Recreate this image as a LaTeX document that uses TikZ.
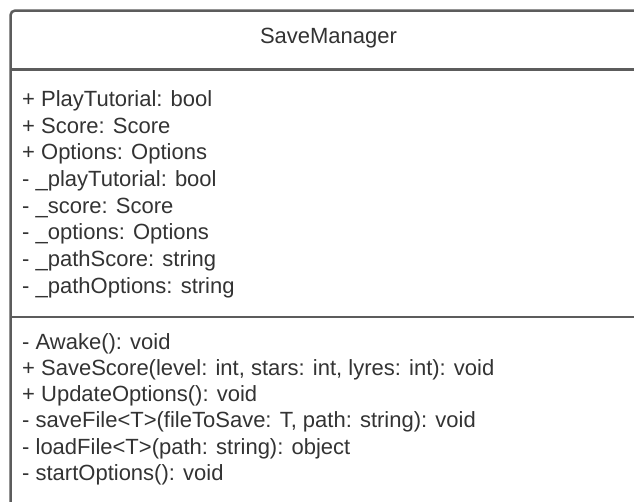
\documentclass[tikz,border=0pt]{standalone}
\usepackage{fontspec}
\setmainfont{Liberation Sans}
\begin{document}
\begin{tikzpicture}[x=1pt,y=-1pt,
  frame/.style={draw=umlline,line width=2.5pt},
  member/.style={anchor=base west,inner sep=0pt,text=umltext,
    font=\fontsize{22}{26}\selectfont},
  title/.style={anchor=base,inner sep=0pt,text=umltext,
    font=\fontsize{22}{26}\selectfont}]
\definecolor{umlline}{HTML}{5C5C5C}
\definecolor{umltext}{HTML}{333333}
\useasboundingbox (0,0) rectangle (634,502);
\clip (0,0) rectangle (634,502);
\fill[white] (0,0) rectangle (634,502);
% class box outline (runs past the right and bottom edges)
\draw[frame,rounded corners=4pt] (10.7,540) |- (646,10.7) -- (646,540);
\draw[frame] (10.7,69.7) -- (646,69.7);
\draw[frame] (10.7,317) -- (646,317);
% class name
\node[title] (name) at (328.5,43.5) {SaveManager};
% attributes
\node[member] (a1) at (22,106.4) {+ PlayTutorial: bool};
\node[member] (a2) at (22,133.1) {+ Score: Score};
\node[member] (a3) at (22,159.8) {+ Options: Options};
\node[member] (a4) at (22,186.5) {- \_playTutorial: bool};
\node[member] (a5) at (22,213.2) {- \_score: Score};
\node[member] (a6) at (22,239.9) {- \_options: Options};
\node[member] (a7) at (22,266.6) {- \_pathScore: string};
\node[member] (a8) at (22,293.3) {- \_pathOptions: string};
% operations
\node[member] (m1) at (22,349.3) {- Awake(): void};
\node[member] (m2) at (22,375.5) {+ SaveScore(level: int, stars: int, lyres: int): void};
\node[member] (m3) at (22,401.7) {+ UpdateOptions(): void};
\node[member] (m4) at (22,427.9) {- saveFile<T>(fileToSave: T, path: string): void};
\node[member] (m5) at (22,454.1) {- loadFile<T>(path: string): object};
\node[member] (m6) at (22,480.3) {- startOptions(): void};
\end{tikzpicture}
\end{document}
